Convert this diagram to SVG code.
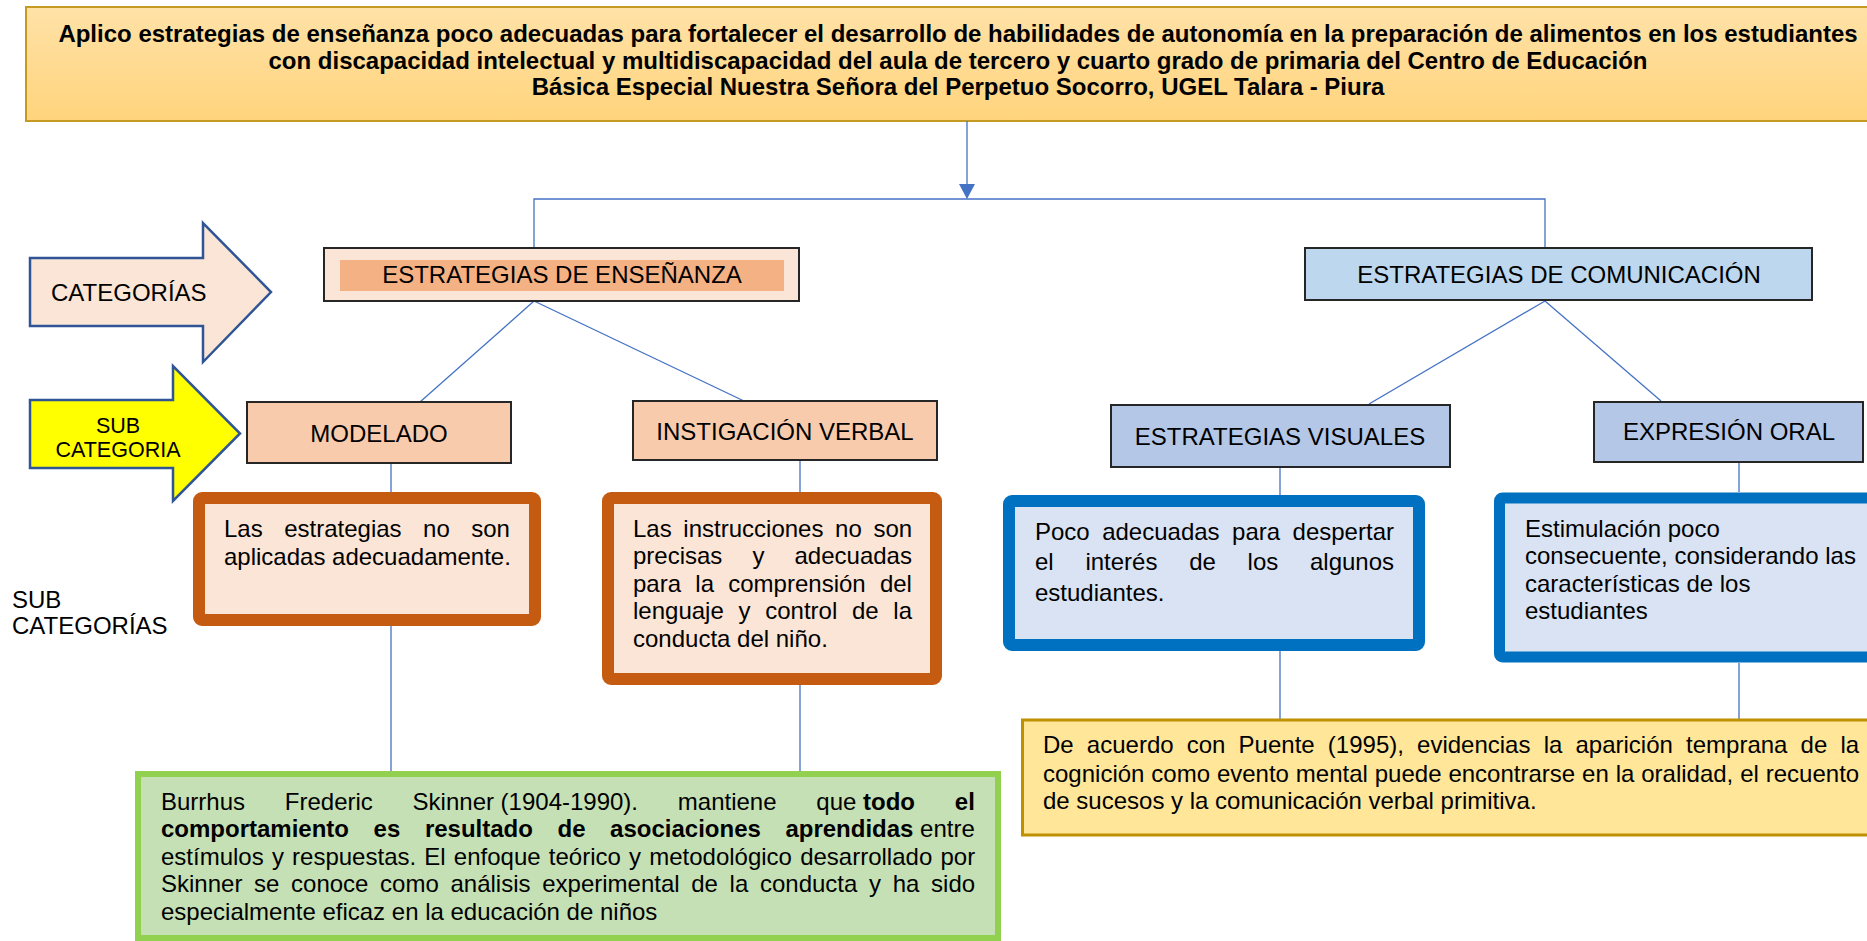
<svg xmlns="http://www.w3.org/2000/svg" width="1867" height="941" viewBox="0 0 1867 941">
<defs>
<linearGradient id="gold" x1="0" y1="0" x2="0" y2="1"><stop offset="0" stop-color="#FFE2A8"/><stop offset="1" stop-color="#FFD47C"/></linearGradient>
</defs>
<style>
text{font-family:"Liberation Sans",Arial,sans-serif;font-size:24px;fill:#000}
.b{font-weight:bold}
.c{text-anchor:middle}
.lbl{stroke:#262626;stroke-width:2}
.conn{stroke:#4472C4;stroke-width:1.3;fill:none}
.ob{fill:#FBE5D6;stroke:#C55A11;stroke-width:12}
.bb{fill:#DAE3F3;stroke:#0070C0;stroke-width:12}
.arr{stroke:#2F5597;stroke-width:2.5}
</style>
<rect x="0" y="0" width="1867" height="941" fill="#fff"/>

<g id="title">
<rect x="26" y="7" width="1870" height="114" fill="url(#gold)" stroke="#C49A22" stroke-width="2"/>
<text class="b c" x="958" y="41.5">Aplico estrategias de enseñanza poco adecuadas para fortalecer el desarrollo de habilidades de autonomía en la preparación de alimentos en los estudiantes</text>
<text class="b c" x="958" y="68.5">con discapacidad intelectual y multidiscapacidad del aula de tercero y cuarto grado de primaria del Centro de Educación</text>
<text class="b c" x="958" y="95">Básica Especial Nuestra Señora del Perpetuo Socorro, UGEL Talara - Piura</text>
</g>

<g id="connectors">
<line class="conn" x1="967" y1="121" x2="967" y2="186"/>
<polygon points="959,184 975,184 967,199" fill="#4472C4"/>
<polyline class="conn" points="534,248 534,199 1545,199 1545,248"/>
<line class="conn" x1="534" y1="301" x2="420" y2="402"/>
<line class="conn" x1="534" y1="301" x2="744" y2="401"/>
<line class="conn" x1="1545" y1="301" x2="1369" y2="404"/>
<line class="conn" x1="1545" y1="301" x2="1661" y2="401"/>
<line class="conn" x1="391" y1="463" x2="391" y2="492"/>
<line class="conn" x1="391" y1="626" x2="391" y2="771"/>
<line class="conn" x1="800" y1="460" x2="800" y2="492"/>
<line class="conn" x1="800" y1="685" x2="800" y2="771"/>
<line class="conn" x1="1280" y1="467" x2="1280" y2="495"/>
<line class="conn" x1="1280" y1="651" x2="1280" y2="719"/>
<line class="conn" x1="1739" y1="462" x2="1739" y2="492"/>
<line class="conn" x1="1739" y1="663" x2="1739" y2="719"/>
</g>

<g id="arrow-categorias">
<polygon class="arr" points="30,258 203,258 203,223 271,292 203,362 203,326 30,326" fill="#FBE5D6"/>
<text x="51" y="300.5">CATEGORÍAS</text>
</g>
<g id="arrow-subcategoria">
<polygon class="arr" points="30,400 173,400 173,366 240,433.5 173,501 173,468 30,468" fill="#FFFF00"/>
<text class="c" x="118" y="432.5" style="font-size:21.5px">SUB</text>
<text class="c" x="118" y="456.5" style="font-size:21.5px">CATEGORIA</text>
</g>
<g id="label-subcategorias">
<text x="12" y="607.5">SUB</text>
<text x="12" y="633.5">CATEGORÍAS</text>
</g>

<g id="n-ensenanza">
<rect class="lbl" x="324" y="248" width="475" height="53" fill="#FBE5D6"/>
<rect x="340" y="260" width="444" height="31" fill="#F4B183"/>
<text class="c" x="562" y="283">ESTRATEGIAS DE ENSEÑANZA</text>
</g>
<g id="n-comunicacion">
<rect class="lbl" x="1305" y="248" width="507" height="52" fill="#BDD7EE"/>
<text class="c" x="1559" y="283">ESTRATEGIAS DE COMUNICACIÓN</text>
</g>
<g id="n-modelado">
<rect class="lbl" x="247" y="402" width="264" height="61" fill="#F8CBAD"/>
<text class="c" x="379" y="442">MODELADO</text>
</g>
<g id="n-instigacion">
<rect class="lbl" x="633" y="401" width="304" height="59" fill="#F8CBAD"/>
<text class="c" x="785" y="440">INSTIGACIÓN VERBAL</text>
</g>
<g id="n-visuales">
<rect class="lbl" x="1111" y="405" width="339" height="62" fill="#B4C7E7"/>
<text class="c" x="1280" y="445">ESTRATEGIAS VISUALES</text>
</g>
<g id="n-oral">
<rect class="lbl" x="1594" y="402" width="269" height="60" fill="#B4C7E7"/>
<text class="c" x="1729" y="440">EXPRESIÓN ORAL</text>
</g>

<g id="n-modelado-desc">
<rect class="ob" x="199" y="498" width="336" height="122" rx="3"/>
<text x="224" y="536.5" style="word-spacing:14.8px">Las estrategias no son</text>
<text x="224" y="564.5">aplicadas adecuadamente.</text>
</g>
<g id="n-instigacion-desc">
<rect class="ob" x="608" y="498" width="328" height="181" rx="3"/>
<text x="633" y="536.5" style="word-spacing:5px">Las instrucciones no son</text>
<text x="633" y="564" style="word-spacing:23.4px">precisas y adecuadas</text>
<text x="633" y="591.5" style="word-spacing:7.6px">para la comprensión del</text>
<text x="633" y="619" style="word-spacing:8.05px">lenguaje y control de la</text>
<text x="633" y="646.5">conducta del niño.</text>
</g>
<g id="n-visuales-desc">
<rect class="bb" x="1009" y="501" width="410" height="144" rx="3"/>
<text x="1035" y="540" style="word-spacing:5.8px">Poco adecuadas para despertar</text>
<text x="1035" y="569.5" style="word-spacing:25.05px">el interés de los algunos</text>
<text x="1035" y="600.5">estudiantes.</text>
</g>
<g id="n-oral-desc">
<rect class="bb" x="1499.5" y="498" width="420" height="159" rx="3" style="stroke-width:11"/>
<text x="1525" y="536.5">Estimulación poco</text>
<text x="1525" y="564">consecuente, considerando las</text>
<text x="1525" y="591.5">características de los</text>
<text x="1525" y="619">estudiantes</text>
</g>

<g id="n-skinner">
<rect x="138" y="774" width="860" height="164" fill="#C5E0B4" stroke="#92D050" stroke-width="6"/>
<text y="809.5"><tspan x="161">Burrhus</tspan><tspan x="284.8">Frederic</tspan><tspan x="412.6">Skinner</tspan><tspan x="500.6">(1904-1990).</tspan><tspan x="677.8">mantiene</tspan><tspan x="816.3">que</tspan><tspan x="863" class="b">todo</tspan><tspan x="954.8" class="b">el</tspan></text>
<text y="837"><tspan x="161" class="b">comportamiento</tspan><tspan x="373.6" class="b">es</tspan><tspan x="424.9" class="b">resultado</tspan><tspan x="557.5" class="b">de</tspan><tspan x="610.1" class="b">asociaciones</tspan><tspan x="785.4" class="b">aprendidas</tspan><tspan x="920.1">entre</tspan></text>
<text x="161" y="864.5" style="word-spacing:1.52px">estímulos y respuestas. El enfoque teórico y metodológico desarrollado por</text>
<text x="161" y="892" style="word-spacing:5px">Skinner se conoce como análisis experimental de la conducta y ha sido</text>
<text x="161" y="919.5">especialmente eficaz en la educación de niños</text>
</g>

<g id="n-puente">
<rect x="1022.5" y="720" width="900" height="115" fill="#FFE699" stroke="#BF9000" stroke-width="3"/>
<text x="1043" y="753" style="word-spacing:6.5px">De acuerdo con Puente (1995), evidencias la aparición temprana de la</text>
<text x="1043" y="781.5" style="word-spacing:0.23px">cognición como evento mental puede encontrarse en la oralidad, el recuento</text>
<text x="1043" y="809">de sucesos y la comunicación verbal primitiva.</text>
</g>
</svg>
